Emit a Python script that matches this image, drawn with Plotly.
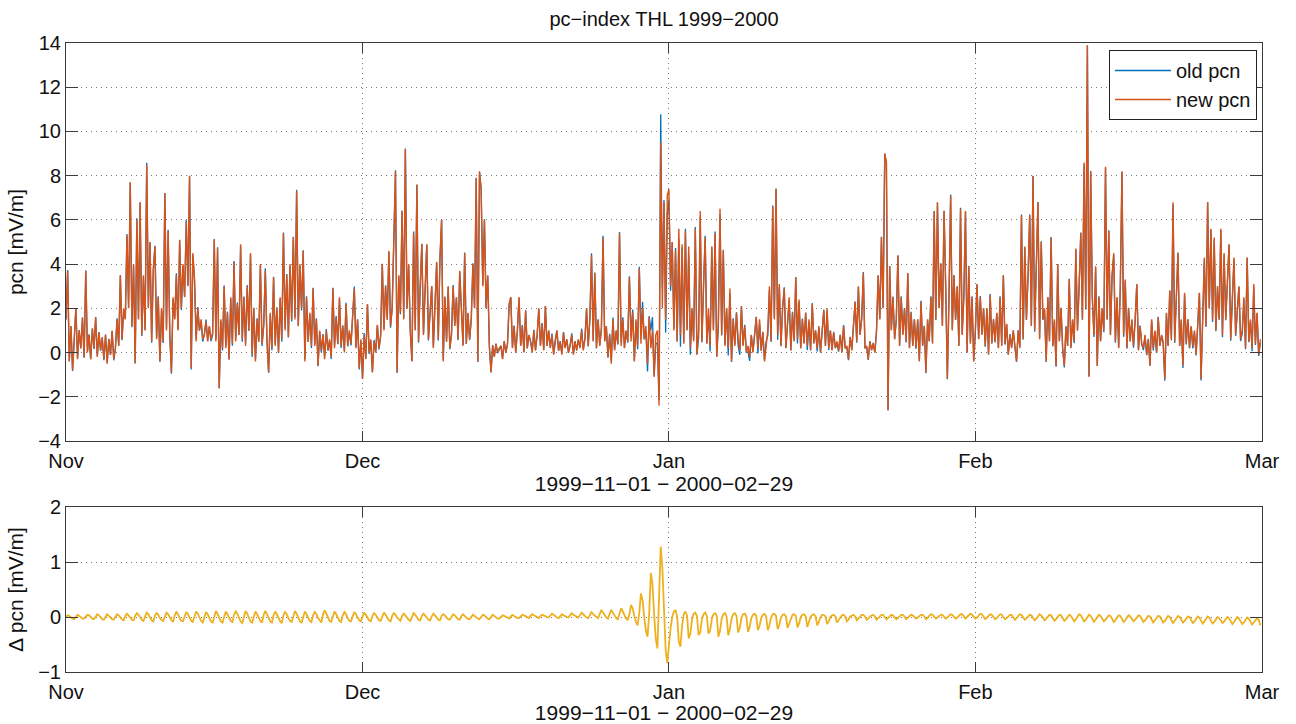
import pandas as pd
import plotly.graph_objects as go

# ---- data (6 samples per day, 4-hourly) ----
start_date = "1999-11-01"
sample_freq = "4h"

new_pcn_days = [
    [1.5, 3.7, -0.4, 1.2, -0.8, 0.9],
    [2.0, -0.3, 1.0, 0.2, 1.6, -0.2],
    [3.7, 0.0, 0.8, -0.3, 1.1, 0.2],
    [1.6, -0.2, 0.9, 0.1, 0.7, -0.3],
    [0.8, -0.5, 0.6, -0.1, 1.0, -0.3],
    [0.2, 1.5, 0.3, 3.5, 0.6, 2.0],
    [1.5, 5.3, 2.0, 7.7, 1.2, 4.0],
    [-0.5, 6.0, 1.5, 6.8, 0.8, 3.5],
    [1.0, 8.5, 2.0, 5.0, 0.5, 3.8],
    [4.8, 0.6, 2.5, -0.4, 2.0, 0.5],
    [7.2, 1.0, 5.5, 0.8, -0.9, 2.5],
    [1.5, 3.5, 1.0, 5.1, 2.0, 4.0],
    [2.5, 5.9, 3.0, 8.0, -0.7, 4.5],
    [3.3, 0.5, 2.0, 1.0, 1.5, 0.6],
    [0.8, 1.4, 0.5, 1.2, 0.6, 0.9],
    [5.1, 0.5, 4.7, -1.6, 1.5, 0.2],
    [3.0, 0.2, 1.8, -0.3, 2.5, 0.4],
    [4.1, 0.5, 2.2, 0.8, 4.9, 0.6],
    [2.5, 0.3, 3.0, 1.0, 4.5, -0.1],
    [2.0, -0.4, 1.5, 0.5, 4.0, 0.4],
    [1.2, 3.7, 0.5, -0.9, 1.8, 0.2],
    [3.4, 0.3, 2.0, 0.0, 2.5, 0.6],
    [5.4, 1.0, 3.5, 0.7, 4.0, 1.5],
    [5.2, 1.5, 7.3, 1.2, 4.0, 2.0],
    [4.6, -0.4, 2.5, 0.5, 1.8, 0.3],
    [2.9, 0.3, 1.5, -0.6, 1.0, 0.1],
    [0.8, -0.3, 1.0, 0.1, 0.6, -0.2],
    [2.9, 0.2, 1.6, 0.4, 2.5, 0.3],
    [1.2, 0.0, 2.2, 0.3, 1.0, 0.4],
    [1.8, 2.9, 0.2, 1.5, -0.7, 0.6],
    [-1.2, 0.8, -0.3, 2.2, 0.0, 0.6],
    [-0.9, 0.5, 0.0, 1.25, 0.2, 0.8],
    [4.0, 1.0, 3.0, 1.5, 4.6, 1.2],
    [2.0, 5.2, 8.2, -0.9, 3.5, 1.8],
    [6.4, 1.5, 9.2, 2.0, 4.0, 1.0],
    [-0.4, 5.4, 1.0, 7.6, 0.5, 3.0],
    [4.9, 0.8, 3.0, 4.9, 0.6, 2.0],
    [3.0, 0.2, 2.5, 4.1, 0.6, 4.3],
    [6.0, -0.4, 2.5, 0.5, 3.0, 0.2],
    [0.8, 3.0, 1.2, 2.5, 0.6, 3.7],
    [2.0, 0.3, 4.5, 0.4, 1.8, 0.6],
    [1.5, 4.0, 2.0, 7.9, -0.4, 8.2],
    [7.4, 3.0, 6.0, 2.0, 3.5, 0.3],
    [-0.9, 0.3, -0.2, 0.4, 0.0, 0.2],
    [0.3, -0.3, 0.5, 0.0, 0.4, 2.2],
    [2.5, 0.2, 1.2, 0.0, 1.0, 2.5],
    [0.3, 1.2, 0.0, 1.9, 0.2, 0.8],
    [0.5, 0.0, 1.0, 0.1, 0.8, 2.0],
    [0.3, 1.3, 0.1, 2.1, 0.3, 1.0],
    [0.2, 0.8, -0.1, 0.6, 1.0, 0.1],
    [0.5, -0.1, 0.9, 0.2, 0.6, 0.0],
    [0.3, 0.8, -0.1, 0.5, 0.1, 0.6],
    [0.2, 1.0, 0.1, 0.6, 2.0, 0.3],
    [1.5, 4.4, 0.5, 3.6, 0.2, 1.5],
    [0.3, 1.0, 5.2, 0.5, 1.2, -0.2],
    [0.8, -0.5, 1.5, 0.1, 1.0, 0.4],
    [5.4, 0.3, 1.5, 0.2, 1.0, 0.5],
    [3.4, 0.5, 1.8, -0.4, 1.5, 0.3],
    [3.8, 0.4, 2.0, 0.6, 1.2, -0.5],
    [1.6, 0.2, 1.0, -1.1, 0.8, 1.0],
    [-2.4, 9.5, 2.0, 6.8, 1.5, 7.1],
    [7.4, 3.0, 5.0, 1.0, 4.6, 0.5],
    [5.6, 0.8, 4.9, 0.4, 5.5, 1.0],
    [4.8, 0.2, 2.0, 0.5, 5.6, -0.1],
    [1.0, 6.4, 0.5, 3.0, 5.2, 0.4],
    [2.0, 0.3, 4.8, 1.0, 5.4, -0.2],
    [1.5, 6.5, 0.8, 4.6, 0.3, 2.0],
    [0.2, 2.9, -0.4, 1.5, 0.3, 1.8],
    [0.6, 0.1, 2.1, 0.3, 1.2, 0.0],
    [0.3, -0.2, 0.8, 0.0, 1.0, 1.6],
    [0.2, 1.5, 0.1, 0.9, -0.4, 0.5],
    [1.0, 3.0, 0.5, 6.6, 1.5, 7.4],
    [0.8, 3.1, 0.3, 2.0, 2.9, 0.2],
    [1.5, 2.5, 0.1, 1.8, 0.5, 3.4],
    [0.6, 2.4, 0.2, 1.5, 0.4, 1.8],
    [0.3, 1.5, 0.1, 2.2, 0.4, 1.0],
    [0.2, 1.2, 0.0, 0.8, 1.9, 0.3],
    [2.0, 0.2, 1.0, 0.1, 0.9, 0.2],
    [0.5, 0.1, 0.8, 0.0, 1.2, 0.2],
    [0.3, -0.3, 0.7, 0.1, 1.2, 2.3],
    [0.5, 3.0, 0.8, 1.5, 3.6, 0.2],
    [0.3, -0.3, 0.5, 0.1, 0.4, 0.0],
    [1.0, 3.5, 1.5, 5.2, 2.0, 9.0],
    [8.6, -2.6, 3.9, 1.0, 2.5, 0.6],
    [1.5, 4.4, 0.3, 2.5, 0.8, 2.0],
    [0.5, 3.6, 0.2, 1.8, 0.3, 1.5],
    [0.2, 1.5, -0.4, 2.3, 0.3, 1.2],
    [-0.9, 1.5, 0.5, 2.5, 0.4, 6.4],
    [1.5, 6.8, 2.0, 4.0, 1.2, 6.4],
    [3.0, -1.2, 2.5, 7.1, 1.0, 3.5],
    [1.5, 3.0, 0.3, 6.5, 0.8, 2.5],
    [6.4, 0.0, 3.9, 0.4, 2.5, -0.4],
    [1.0, 3.1, 0.6, 2.5, 0.8, 2.0],
    [0.3, 2.0, -0.1, 2.6, 0.4, 1.5],
    [0.5, 1.8, 0.2, 2.5, 0.3, 3.5],
    [0.4, 1.3, -0.1, 0.8, 0.2, 1.0],
    [0.3, -0.4, 1.0, 0.2, 6.2, 0.6],
    [4.8, 1.5, 3.5, 6.2, 1.2, 8.0],
    [1.0, 3.5, 6.8, 0.6, 5.0, 1.5],
    [2.0, -0.4, 2.5, 0.5, 5.2, 0.3],
    [1.5, -0.6, 4.0, 0.5, 2.0, 0.2],
    [-0.6, 1.2, 0.3, 3.3, 0.2, 1.5],
    [0.5, 4.7, 1.0, 3.0, 5.4, 1.5],
    [8.6, 2.0, 13.9, -1.1, 8.2, 2.5],
    [0.8, 3.9, -0.6, 2.5, 0.5, 2.0],
    [1.0, 8.4, 1.5, 5.5, 0.8, 3.5],
    [4.5, 0.5, 2.5, 0.2, 3.0, 8.2],
    [0.8, 3.3, 0.2, 2.0, 0.5, 1.5],
    [0.3, 1.5, 3.1, 0.1, 1.2, 0.4],
    [0.2, 0.8, -0.1, 0.6, -0.6, 1.5],
    [0.2, 1.0, 0.0, 1.6, 0.3, 0.8],
    [0.5, -1.2, 1.8, 0.3, 2.8, 0.6],
    [6.8, 0.5, 2.5, 4.5, 0.3, 1.5],
    [-0.6, 2.7, 0.4, 1.5, 0.2, 1.2],
    [0.3, 1.0, -0.1, 1.5, 2.7, -1.2],
    [1.5, 4.3, 1.2, 6.8, 2.0, 5.6],
    [1.5, 5.2, 1.0, 3.0, 1.5, 5.6],
    [0.8, 4.5, 1.5, 3.0, 4.9, 0.6],
    [2.5, 4.3, 0.8, 2.0, 3.0, 0.6],
    [1.0, 2.5, 0.2, 4.3, 0.5, 1.5],
    [0.2, 3.1, 0.4, 1.8, -0.1, 0.6],
]

# delta pcn = old pcn - new pcn
delta_days = [
    [0.00, 0.03, 0.02, -0.01, -0.03, -0.04],
    [0.01, 0.04, 0.02, -0.01, -0.03, -0.03],
    [0.01, 0.04, 0.03, 0.00, -0.03, -0.04],
    [0.01, 0.05, 0.03, -0.01, -0.04, -0.05],
    [0.01, 0.05, 0.02, -0.01, -0.04, -0.05],
    [0.01, 0.05, 0.03, -0.01, -0.04, -0.06],
    [0.02, 0.06, 0.03, -0.01, -0.05, -0.06],
    [0.02, 0.07, 0.04, -0.01, -0.05, -0.07],
    [0.02, 0.08, 0.05, -0.01, -0.06, -0.08],
    [0.03, 0.07, 0.04, -0.02, -0.06, -0.07],
    [0.02, 0.08, 0.05, -0.01, -0.06, -0.09],
    [0.03, 0.09, 0.05, -0.02, -0.07, -0.08],
    [0.03, 0.09, 0.05, -0.02, -0.07, -0.09],
    [0.03, 0.10, 0.06, -0.01, -0.07, -0.10],
    [0.02, 0.09, 0.05, -0.02, -0.08, -0.10],
    [0.03, 0.11, 0.06, -0.02, -0.08, -0.10],
    [0.03, 0.10, 0.05, -0.02, -0.07, -0.09],
    [0.04, 0.10, 0.06, -0.01, -0.08, -0.11],
    [0.03, 0.11, 0.06, -0.02, -0.08, -0.10],
    [0.03, 0.10, 0.05, -0.02, -0.07, -0.10],
    [0.04, 0.11, 0.06, -0.01, -0.08, -0.10],
    [0.03, 0.10, 0.05, -0.02, -0.08, -0.11],
    [0.03, 0.09, 0.05, -0.02, -0.07, -0.09],
    [0.04, 0.11, 0.06, -0.01, -0.08, -0.10],
    [0.03, 0.10, 0.05, -0.02, -0.07, -0.09],
    [0.03, 0.09, 0.05, -0.02, -0.07, -0.10],
    [0.04, 0.12, 0.06, -0.01, -0.07, -0.09],
    [0.03, 0.10, 0.05, -0.02, -0.07, -0.09],
    [0.03, 0.09, 0.05, -0.02, -0.07, -0.08],
    [0.03, 0.09, 0.05, -0.01, -0.06, -0.08],
    [0.02, 0.08, 0.04, -0.02, -0.06, -0.08],
    [0.02, 0.07, 0.04, -0.01, -0.06, -0.07],
    [0.02, 0.08, 0.04, -0.02, -0.06, -0.08],
    [0.02, 0.07, 0.04, -0.01, -0.05, -0.07],
    [0.02, 0.06, 0.03, -0.02, -0.05, -0.07],
    [0.02, 0.07, 0.04, -0.01, -0.05, -0.06],
    [0.02, 0.06, 0.03, -0.01, -0.05, -0.06],
    [0.01, 0.06, 0.03, -0.02, -0.05, -0.06],
    [0.02, 0.05, 0.03, -0.01, -0.04, -0.05],
    [0.01, 0.05, 0.03, -0.01, -0.04, -0.05],
    [0.02, 0.05, 0.02, -0.01, -0.04, -0.04],
    [0.01, 0.04, 0.02, -0.01, -0.03, -0.04],
    [0.01, 0.04, 0.03, 0.00, -0.03, -0.04],
    [0.01, 0.04, 0.02, -0.01, -0.03, -0.03],
    [0.01, 0.03, 0.02, 0.00, -0.02, -0.03],
    [0.01, 0.04, 0.02, 0.00, -0.02, -0.02],
    [0.02, 0.04, 0.03, 0.01, -0.01, -0.02],
    [0.02, 0.05, 0.03, 0.01, -0.01, -0.02],
    [0.02, 0.04, 0.03, 0.01, 0.00, -0.01],
    [0.03, 0.06, 0.04, 0.01, -0.01, -0.02],
    [0.02, 0.05, 0.03, 0.01, 0.00, -0.01],
    [0.03, 0.07, 0.04, 0.02, 0.00, -0.01],
    [0.03, 0.08, 0.05, 0.02, -0.01, -0.02],
    [0.04, 0.09, 0.05, 0.02, 0.00, -0.02],
    [0.04, 0.13, 0.08, 0.03, -0.01, -0.03],
    [0.05, 0.13, 0.08, 0.02, -0.02, -0.04],
    [0.05, 0.16, 0.10, 0.02, -0.03, -0.05],
    [0.05, 0.22, 0.15, 0.02, -0.10, -0.15],
    [0.08, 0.43, 0.30, 0.00, -0.25, -0.36],
    [0.05, 0.80, 0.60, 0.05, -0.40, -0.57],
    [0.25, 1.28, 0.90, 0.10, -0.60, -0.84],
    [-0.50, -0.20, 0.00, 0.10, 0.13, 0.00],
    [-0.45, -0.54, -0.15, 0.05, 0.10, 0.03],
    [-0.39, -0.30, -0.05, 0.06, 0.08, 0.02],
    [-0.33, -0.28, -0.04, 0.05, 0.08, 0.02],
    [-0.30, -0.25, -0.04, 0.05, 0.07, 0.02],
    [-0.36, -0.25, -0.03, 0.05, 0.07, 0.01],
    [-0.33, -0.22, -0.03, 0.05, 0.07, 0.02],
    [-0.28, -0.20, -0.02, 0.05, 0.06, 0.01],
    [-0.27, -0.18, -0.02, 0.04, 0.06, 0.02],
    [-0.24, -0.16, -0.02, 0.04, 0.06, 0.01],
    [-0.24, -0.15, -0.01, 0.05, 0.06, 0.02],
    [-0.22, -0.14, -0.01, 0.04, 0.05, 0.01],
    [-0.20, -0.12, -0.01, 0.04, 0.05, 0.02],
    [-0.19, -0.12, 0.00, 0.04, 0.05, 0.01],
    [-0.18, -0.10, 0.00, 0.04, 0.05, 0.01],
    [-0.15, -0.09, 0.00, 0.04, 0.04, 0.01],
    [-0.13, -0.08, 0.00, 0.03, 0.04, 0.01],
    [-0.10, -0.06, 0.00, 0.03, 0.04, 0.01],
    [-0.08, -0.05, 0.01, 0.03, 0.04, 0.01],
    [-0.06, -0.03, 0.01, 0.04, 0.04, 0.01],
    [-0.05, -0.03, 0.01, 0.03, 0.04, 0.01],
    [-0.05, -0.02, 0.02, 0.04, 0.04, 0.00],
    [-0.04, -0.02, 0.01, 0.04, 0.03, 0.00],
    [-0.04, -0.02, 0.02, 0.04, 0.04, 0.01],
    [-0.04, -0.01, 0.02, 0.04, 0.03, 0.00],
    [-0.03, -0.01, 0.02, 0.04, 0.04, 0.01],
    [-0.04, -0.02, 0.02, 0.05, 0.04, 0.00],
    [-0.03, -0.01, 0.02, 0.04, 0.04, 0.01],
    [-0.03, -0.01, 0.03, 0.05, 0.04, 0.01],
    [-0.03, -0.01, 0.02, 0.05, 0.05, 0.01],
    [-0.03, 0.00, 0.03, 0.06, 0.04, 0.01],
    [-0.03, -0.01, 0.02, 0.06, 0.05, 0.01],
    [-0.04, -0.01, 0.02, 0.05, 0.04, 0.00],
    [-0.04, -0.02, 0.02, 0.05, 0.04, 0.00],
    [-0.04, -0.02, 0.01, 0.04, 0.04, -0.01],
    [-0.05, -0.02, 0.01, 0.05, 0.04, -0.01],
    [-0.05, -0.03, 0.01, 0.04, 0.03, -0.01],
    [-0.06, -0.03, 0.01, 0.05, 0.03, -0.02],
    [-0.06, -0.03, 0.00, 0.04, 0.03, -0.02],
    [-0.07, -0.04, 0.00, 0.04, 0.03, -0.02],
    [-0.07, -0.04, 0.00, 0.04, 0.02, -0.03],
    [-0.08, -0.04, 0.00, 0.05, 0.03, -0.02],
    [-0.08, -0.05, -0.01, 0.04, 0.02, -0.03],
    [-0.09, -0.05, -0.01, 0.04, 0.02, -0.03],
    [-0.08, -0.05, -0.01, 0.03, 0.02, -0.03],
    [-0.09, -0.06, -0.01, 0.03, 0.02, -0.04],
    [-0.09, -0.06, -0.02, 0.03, 0.01, -0.04],
    [-0.08, -0.05, -0.01, 0.03, 0.02, -0.03],
    [-0.09, -0.06, -0.02, 0.02, 0.01, -0.04],
    [-0.10, -0.06, -0.02, 0.02, 0.01, -0.04],
    [-0.10, -0.07, -0.02, 0.02, 0.00, -0.05],
    [-0.11, -0.07, -0.03, 0.02, 0.00, -0.05],
    [-0.10, -0.07, -0.03, 0.01, 0.00, -0.05],
    [-0.11, -0.08, -0.03, 0.01, -0.01, -0.06],
    [-0.12, -0.08, -0.04, 0.01, -0.01, -0.06],
    [-0.12, -0.09, -0.04, 0.00, -0.02, -0.07],
    [-0.11, -0.08, -0.04, 0.00, -0.02, -0.07],
    [-0.13, -0.09, -0.05, 0.00, -0.03, -0.08],
    [-0.13, -0.10, -0.05, -0.01, -0.03, -0.08],
    [-0.14, -0.10, -0.06, -0.02, -0.05, -0.15],
]

month_ticks = ["1999-11-01", "1999-12-01", "2000-01-01", "2000-02-01", "2000-03-01"]
month_labels = ["Nov", "Dec", "Jan", "Feb", "Mar"]
x_range = ["1999-11-01", "2000-03-01"]
x_title = "1999\u221211\u221201 \u2212 2000\u221202\u221229"
title_text = "pc\u2212index THL 1999\u22122000"

new_pcn = [v for day in new_pcn_days for v in day]
delta_pcn = [v for day in delta_days for v in day]
old_pcn = [n + d for n, d in zip(new_pcn, delta_pcn)]
time = pd.date_range(start_date, periods=len(new_pcn), freq=sample_freq)

FONT = "Liberation Sans, Arial, Helvetica, sans-serif"
AXC = "#3a3a3a"
GRIDC = "#7a7a7a"
TXT = "#111111"

# Full-window figure (page body margin removed below): frame x 66..1262, y 43..672
W, H = 1296, 724
L, R, T, B = 66, 34, 43, 52
PH = H - T - B                        # 629
top_lo = (672 - 441) / PH             # top panel bottom edge (page y 441)
bot_hi = (672 - 507) / PH             # bottom panel top edge (page y 507)

fig = go.Figure()
fig.add_trace(go.Scatter(x=time, y=old_pcn, mode="lines", name="old pcn",
                         line=dict(color="#0072BD", width=1.3), xaxis="x", yaxis="y"))
fig.add_trace(go.Scatter(x=time, y=new_pcn, mode="lines", name="new pcn",
                         line=dict(color="#D95319", width=1.4), xaxis="x", yaxis="y"))
fig.add_trace(go.Scatter(x=time, y=delta_pcn, mode="lines", name="delta",
                         line=dict(color="#EDB120", width=1.8), xaxis="x2", yaxis="y2",
                         showlegend=False))

common_x = dict(type="date", range=x_range, tickvals=month_ticks, ticktext=month_labels,
                showgrid=True, gridcolor=GRIDC, griddash="1px,4px", gridwidth=1,
                ticks="inside", ticklen=10, tickcolor=AXC, mirror="allticks",
                showline=True, linecolor=AXC, linewidth=1, ticklabelstandoff=2,
                tickfont=dict(size=20, color=TXT), automargin=False,
                title=dict(text=x_title, font=dict(size=21, color=TXT), standoff=0),
                zeroline=False)
common_y = dict(showgrid=True, gridcolor=GRIDC, griddash="1px,4px", gridwidth=1,
                ticks="inside", ticklen=12, tickcolor=AXC, mirror="allticks",
                showline=True, linecolor=AXC, linewidth=1, zeroline=False,
                tickfont=dict(size=20, color=TXT), automargin=False)

fig.update_layout(
    width=W, height=H,
    margin=dict(l=L, r=R, t=T, b=B, autoexpand=False),
    paper_bgcolor="white", plot_bgcolor="white",
    font=dict(family=FONT, color=TXT),
    title=dict(text=title_text, x=0.5, xref="paper", y=1 - 19 / H, yanchor="middle",
               font=dict(size=20, color=TXT)),
    xaxis=dict(domain=[0, 1], anchor="y", **common_x),
    yaxis=dict(domain=[top_lo, 1], anchor="x", range=[-4, 14], dtick=2,
               title=dict(text="pcn [mV/m]", font=dict(size=21, color=TXT), standoff=8),
               **common_y),
    xaxis2=dict(domain=[0, 1], anchor="y2", **common_x),
    yaxis2=dict(domain=[0, bot_hi], anchor="x2", range=[-1, 2], dtick=1,
                title=dict(text="\u0394 pcn [mV/m]", font=dict(size=21, color=TXT), standoff=8),
                **common_y),
    legend=dict(x=1 - 5 / (W - L - R), xanchor="right", y=1 - 7 / PH, yanchor="top",
                bgcolor="white", bordercolor="#222", borderwidth=1, itemwidth=56,
                font=dict(size=20, color=TXT), tracegroupgap=0),
    showlegend=True,
)

fig.write_html(
    "out.html",
    config={"displayModeBar": False},
    post_script="document.body.style.margin='0px';document.body.style.padding='0px';"
                "document.body.style.overflow='hidden';",
)
